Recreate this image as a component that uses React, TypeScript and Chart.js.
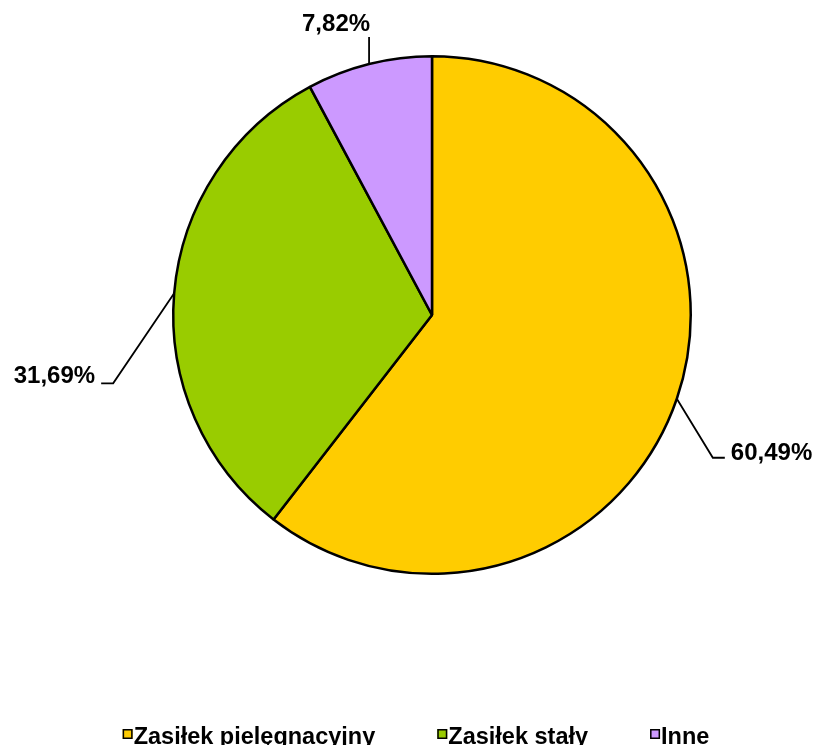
import React, { useEffect, useRef } from "react";
import { Chart, registerables } from "chart.js";

Chart.register(...registerables);

// ---- data ----
const categories = ["Zasiłek pielęgnacyjny", "Zasiłek stały", "Inne"];
const shares = [60.49, 31.69, 7.82];
const sliceColors = ["#FFCC00", "#99CC00", "#CC99FF"];

// ---- styles / layout ----
const FONT = '"Liberation Sans", Arial, Helvetica, sans-serif';
const LABEL_FONT = `bold 24px ${FONT}`;
const LEGEND_FONT = `bold 23.5px ${FONT}`;

type Leader = { elbow: [number, number]; tail: number; gap: number; align: CanvasTextAlign; dy: number };
const leaderLayout: Leader[] = [
  { elbow: [36, 59], tail: 12, gap: 6, align: "left", dy: 2 },
  { elbow: [-61, 90], tail: -12, gap: -6, align: "right", dy: 0 },
  { elbow: [0, -27], tail: 0, gap: 1, align: "right", dy: -6 },
];

const LEGEND_CENTER_X = 416;
const LEGEND_BASELINE = 744;
const LEGEND_BOX = 10;
const LEGEND_BOX_GAP = 1;
const LEGEND_ITEM_GAP = 62;

const formatShare = (v: number) => v.toFixed(2).replace(".", ",") + "%";

const sliceLabelPlugin = {
  id: "sliceLabels",
  afterDatasetsDraw(chart: any) {
    const ctx: CanvasRenderingContext2D = chart.ctx;
    const meta = chart.getDatasetMeta(0);
    ctx.save();
    meta.data.forEach((arc: any, i: number) => {
      const { x, y, startAngle, endAngle, outerRadius } = arc.getProps(
        ["x", "y", "startAngle", "endAngle", "outerRadius"],
        true
      );
      const mid = (startAngle + endAngle) / 2;
      const ex = x + Math.cos(mid) * outerRadius;
      const ey = y + Math.sin(mid) * outerRadius;
      const L = leaderLayout[i];
      const bx = ex + L.elbow[0];
      const by = ey + L.elbow[1];
      const tx = bx + L.tail;
      ctx.strokeStyle = "#000";
      ctx.lineWidth = 1.8;
      ctx.beginPath();
      ctx.moveTo(ex, ey);
      ctx.lineTo(bx, by);
      if (L.tail !== 0) ctx.lineTo(tx, by);
      ctx.stroke();
      ctx.fillStyle = "#000";
      ctx.font = LABEL_FONT;
      ctx.textAlign = L.align;
      ctx.textBaseline = "alphabetic";
      ctx.fillText(formatShare(shares[i]), tx + L.gap, by + L.dy);
    });
    ctx.restore();
  },
};

const bottomLegendPlugin = {
  id: "bottomLegend",
  afterDraw(chart: any) {
    const ctx: CanvasRenderingContext2D = chart.ctx;
    ctx.save();
    ctx.font = LEGEND_FONT;
    const widths = categories.map((c) => ctx.measureText(c).width);
    const itemWidths = widths.map((w) => LEGEND_BOX + LEGEND_BOX_GAP + w);
    const total = itemWidths.reduce((a, b) => a + b, 0) + LEGEND_ITEM_GAP * (categories.length - 1);
    let x = LEGEND_CENTER_X - total / 2;
    const boxTop = LEGEND_BASELINE - 15;
    categories.forEach((c, i) => {
      ctx.fillStyle = sliceColors[i];
      ctx.fillRect(x, boxTop, LEGEND_BOX, LEGEND_BOX);
      ctx.strokeStyle = "#000";
      ctx.lineWidth = 1.5;
      ctx.strokeRect(x + 0.75, boxTop + 0.75, LEGEND_BOX - 1.5, LEGEND_BOX - 1.5);
      ctx.fillStyle = "#000";
      ctx.textAlign = "left";
      ctx.textBaseline = "alphabetic";
      ctx.fillText(c, x + LEGEND_BOX + LEGEND_BOX_GAP, LEGEND_BASELINE);
      x += itemWidths[i] + LEGEND_ITEM_GAP;
    });
    ctx.restore();
  },
};

export default function App() {
  const canvasRef = useRef<HTMLCanvasElement | null>(null);

  useEffect(() => {
    if (!canvasRef.current) return;
    const chart = new Chart(canvasRef.current, {
      type: "pie",
      data: {
        labels: categories,
        datasets: [
          {
            data: shares,
            backgroundColor: sliceColors,
            borderColor: "#000000",
            borderWidth: 2.5,
          },
        ],
      },
      options: {
        responsive: false,
        animation: false,
        devicePixelRatio: 1,
        layout: { padding: { left: 172, right: 122, top: 55, bottom: 170 } },
        plugins: {
          legend: { display: false },
          tooltip: { enabled: false },
          title: { display: false },
        },
      },
      plugins: [sliceLabelPlugin, bottomLegendPlugin],
    });
    return () => chart.destroy();
  }, []);

  return (
    <div style={{ position: "absolute", left: 0, top: 0, width: 814, height: 745, background: "#fff" }}>
      <canvas ref={canvasRef} width={814} height={745} style={{ display: "block" }} />
    </div>
  );
}
